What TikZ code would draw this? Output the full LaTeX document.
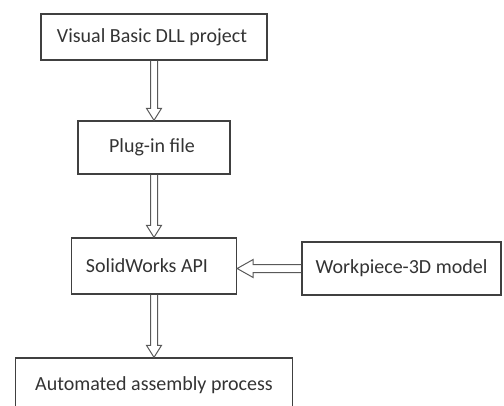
\documentclass[tikz,border=0pt]{standalone}
\usepackage{fontspec}
\setmainfont{Carlito}
\usetikzlibrary{calc}
\begin{document}
\begin{tikzpicture}[x=1pt,y=-1pt,
  box/.style={draw=black!75, line width=1.3pt, rectangle, inner sep=0pt, font=\fontsize{20}{22}\selectfont, text=black!80},
  harrow/.style={draw=black!65, line width=1pt, line join=miter}]
\useasboundingbox (0,0) rectangle (504,405);
\node[box, minimum width=226pt, minimum height=46pt] (b1) at (154,37) {\hspace*{-4pt}Visual Basic DLL project};
\node[box, minimum width=152pt, minimum height=53pt] (b2) at (154,147.5) {\hspace*{-4pt}Plug-in file};
\node[box, minimum width=165pt, minimum height=56pt] (b3) at (154,266) {\hspace*{-14pt}SolidWorks API};
\node[box, minimum width=199pt, minimum height=53pt] (b4) at (401.5,268.5) {Workpiece-3D model};
\begin{scope}
\clip (0,0) rectangle (504,405);
\node[box, minimum width=277pt, minimum height=54pt, text depth=0pt] (b5) at (154,385) {\raisebox{2pt}{Automated assembly process}};
\end{scope}
% vertical hollow arrows
\foreach \a/\b in {b1/b2, b2/b3, b3/b5}{
  \coordinate (s) at (\a.south -| \b.north);
  \draw[harrow] ($(s)+(-3.5,0)$) -- ($(\b.north)+(-3.5,-12)$) -- ($(\b.north)+(-7.5,-12)$) -- (\b.north) -- ($(\b.north)+(7.5,-12)$) -- ($(\b.north)+(3.5,-12)$) -- ($(s)+(3.5,0)$);
}
% horizontal hollow arrow
\coordinate (t) at (b3.east |- b4.west);
\draw[harrow] ($(b4.west)+(0,-4)$) -- ($(t)+(16,-4)$) -- ($(t)+(16,-9)$) -- (t) -- ($(t)+(16,9)$) -- ($(t)+(16,4)$) -- ($(b4.west)+(0,4)$);
\end{tikzpicture}
\end{document}
